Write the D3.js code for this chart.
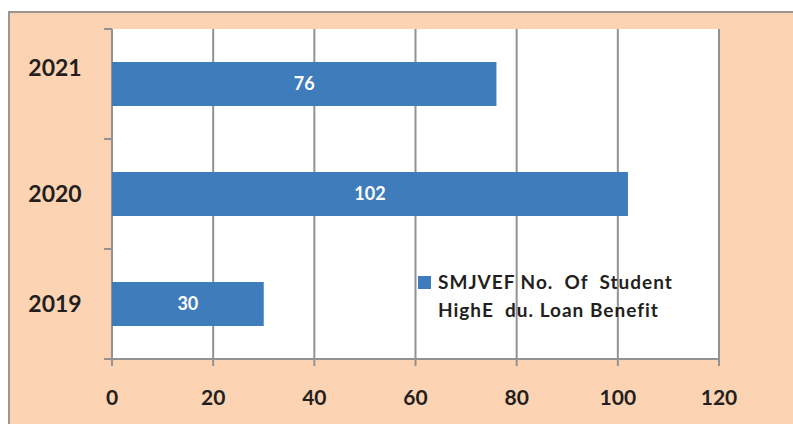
<!DOCTYPE html>
<html>
<head>
<meta charset="utf-8">
<script src="https://cdn.jsdelivr.net/npm/d3@7"></script>
<style>
  body { margin: 0; background: #fff; }
  text { font-family: Lato, "Open Sans", sans-serif; font-weight: bold; }
</style>
</head>
<body>
<script>
// chart data
var years = ["2021", "2020", "2019"];
var students = [76, 102, 30];
var xTicks = [0, 20, 40, 60, 80, 100, 120];
var legendLines = ["SMJVEF No.  Of  Student", "HighE  du. Loan Benefit"];

var svgWidth = 793;
var svgHeight = 424;

var margin = { top: 29, right: 74, bottom: 65, left: 112 };
var width = svgWidth - margin.left - margin.right;
var height = svgHeight - margin.top - margin.bottom;

var svg = d3.select("body")
  .append("svg")
  .attr("width", svgWidth)
  .attr("height", svgHeight);

// peach background + frame
svg.append("rect")
  .attr("x", 9).attr("y", 12)
  .attr("width", svgWidth).attr("height", svgHeight)
  .attr("fill", "#fdd4b3")
  .attr("stroke", "#9a9590")
  .attr("stroke-width", 2);

var chartGroup = svg.append("g")
  .attr("transform", `translate(${margin.left}, ${margin.top})`);

chartGroup.append("rect")
  .attr("width", width).attr("height", height)
  .attr("fill", "#fff");

var xScale = d3.scaleLinear().domain([0, 120]).range([0, width]);
var yScale = d3.scaleBand().domain(years).range([0, height]).paddingInner(0.6).paddingOuter(0.3);

// vertical grid lines
chartGroup.selectAll(".grid")
  .data(xTicks)
  .enter()
  .append("line")
  .attr("x1", d => xScale(d)).attr("x2", d => xScale(d))
  .attr("y1", 0).attr("y2", height + 7)
  .attr("stroke", "#929292")
  .attr("stroke-width", 2);

// x axis line
chartGroup.append("line")
  .attr("x1", 0).attr("x2", width)
  .attr("y1", height).attr("y2", height)
  .attr("stroke", "#929292").attr("stroke-width", 2);

// y axis line and category ticks
var bandStep = height / years.length;
chartGroup.append("line")
  .attr("x1", 0).attr("x2", 0)
  .attr("y1", 0).attr("y2", height)
  .attr("stroke", "#929292").attr("stroke-width", 2);
chartGroup.selectAll(".ytick")
  .data(d3.range(years.length + 1))
  .enter()
  .append("line")
  .attr("x1", -8).attr("x2", 0)
  .attr("y1", d => d * bandStep).attr("y2", d => d * bandStep)
  .attr("stroke", "#929292").attr("stroke-width", 2);

// x tick labels
chartGroup.selectAll(".xlabel")
  .data(xTicks)
  .enter()
  .append("text")
  .attr("x", d => xScale(d))
  .attr("y", height + 46)
  .attr("text-anchor", "middle")
  .attr("font-size", "21px")
  .attr("fill", "#231f20")
  .text(d => d);

// y labels (top one sits a bit high in the original)
chartGroup.selectAll(".ylabel")
  .data(years)
  .enter()
  .append("text")
  .attr("x", -57)
  .attr("y", (d, i) => yScale(d) + yScale.bandwidth() / 2 - (i === 0 ? 16 : 0))
  .attr("dy", "0.36em")
  .attr("text-anchor", "middle")
  .attr("font-size", "23px")
  .attr("fill", "#231f20")
  .text(d => d);

// bars
chartGroup.selectAll(".bar")
  .data(years)
  .enter()
  .append("rect")
  .attr("x", 0)
  .attr("y", d => yScale(d))
  .attr("width", (d, i) => xScale(students[i]))
  .attr("height", yScale.bandwidth())
  .attr("fill", "#3f7cbb");

// data labels
chartGroup.selectAll(".val")
  .data(years)
  .enter()
  .append("text")
  .attr("x", (d, i) => xScale(students[i]) / 2)
  .attr("y", d => yScale(d) + yScale.bandwidth() / 2)
  .attr("dy", "0.36em")
  .attr("text-anchor", "middle")
  .attr("font-size", "18px")
  .attr("fill", "#fff")
  .text((d, i) => students[i]);

// legend
var legend = svg.append("g").attr("transform", "translate(418, 276)");
legend.append("rect")
  .attr("width", 13).attr("height", 13)
  .attr("fill", "#3f7cbb");
legend.selectAll("text")
  .data(legendLines)
  .enter()
  .append("text")
  .attr("x", 20)
  .attr("y", (d, i) => 13 + i * 28)
  .attr("font-size", "19px")
  .attr("letter-spacing", "1px")
  .attr("fill", "#231f20")
  .style("white-space", "pre")
  .text(d => d);
</script>
</body>
</html>
